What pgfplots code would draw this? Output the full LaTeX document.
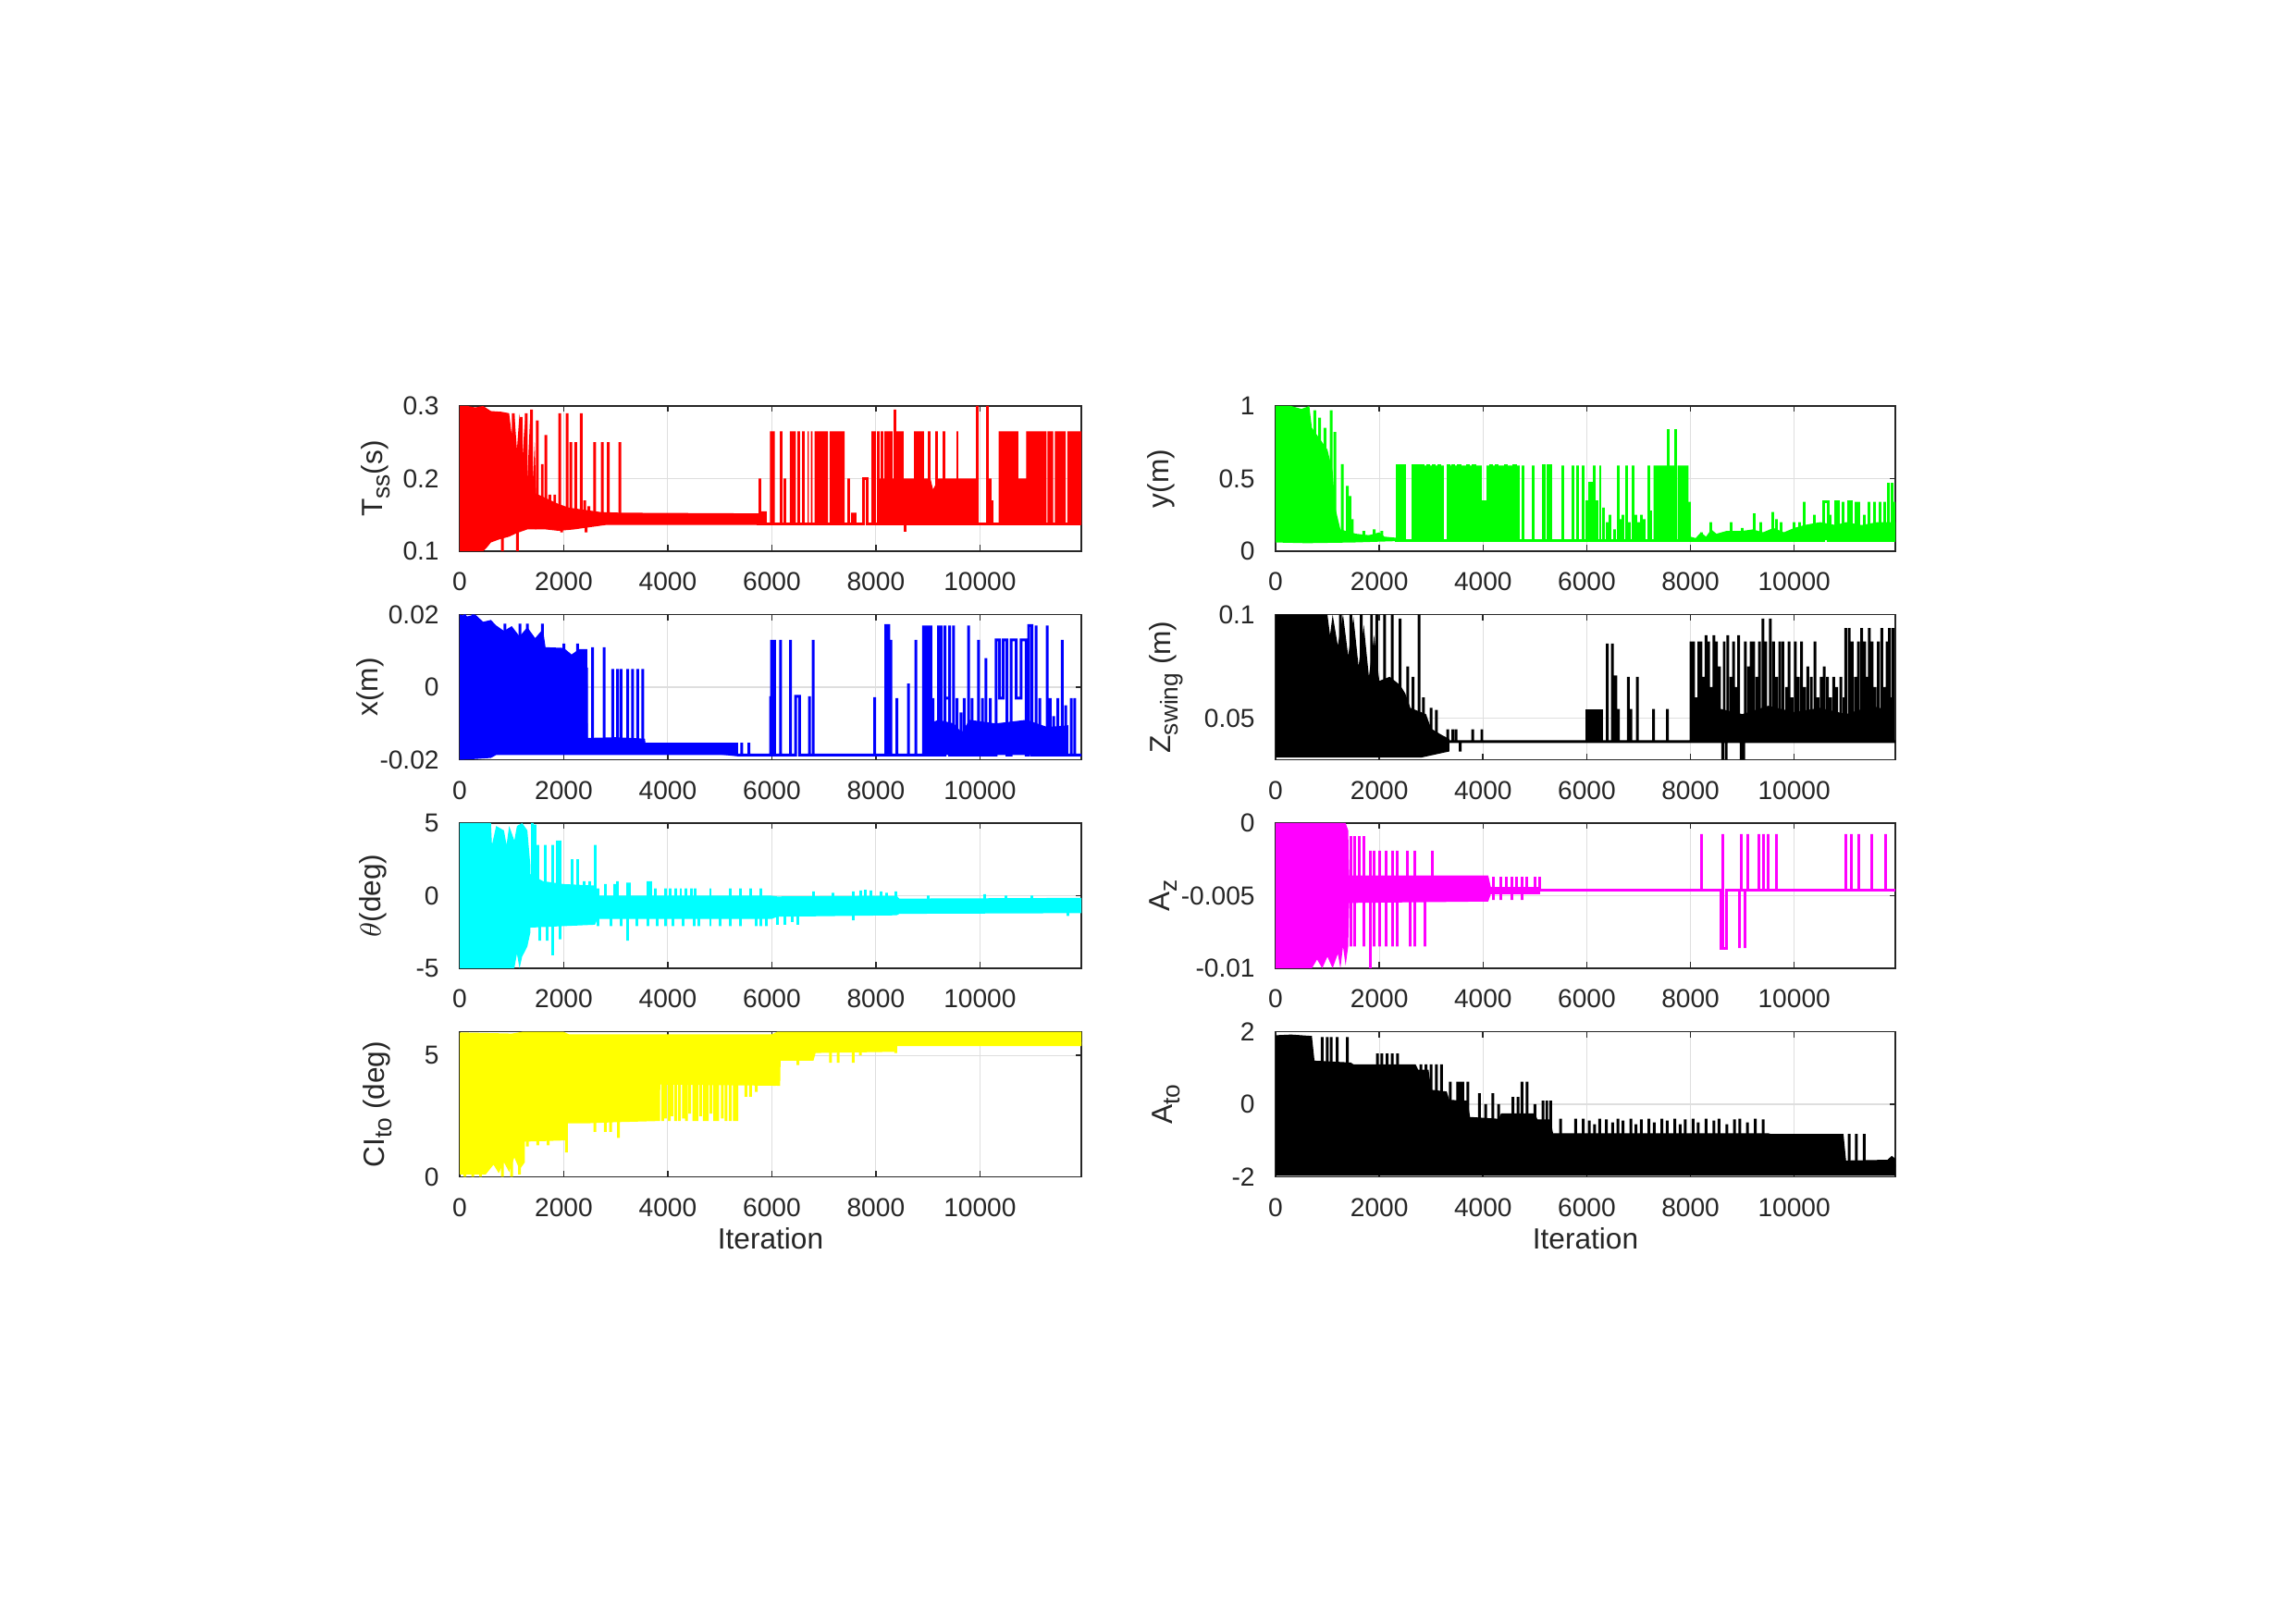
\documentclass[border=0pt]{standalone}
\usepackage{fontspec}
\setmainfont{Liberation Sans}
\usepackage{pgfplots}
\pgfplotsset{compat=1.18}
\definecolor{axgray}{rgb}{0.15,0.15,0.15}
\definecolor{gridgray}{rgb}{0.87,0.87,0.87}
\definecolor{cR}{rgb}{1,0,0}
\definecolor{cB}{rgb}{0,0,1}
\definecolor{cC}{rgb}{0,1,1}
\definecolor{cY}{rgb}{1,1,0}
\definecolor{cG}{rgb}{0,1,0}
\definecolor{cM}{rgb}{1,0,1}
\definecolor{cK}{rgb}{0,0,0}
\newcommand{\sub}[1]{\raisebox{-0.5ex}{\fontsize{7.5}{8}\selectfont #1}}
\pgfplotsset{
 mlab/.style={
  scale only axis, height=15.7mm, anchor=south west,
  xmin=0, xmax=11950,
  scaled x ticks=false, scaled y ticks=false,
  xtick={0,2000,4000,6000,8000,10000},
  xticklabels={0,2000,4000,6000,8000,10000},
  grid=major, major grid style={gridgray, line width=0.3pt},
  axis line style={axgray, line width=0.45pt},
  tick style={axgray, line width=0.45pt},
  tick align=inside, major tick length=0.65mm,
  tick label style={font=\fontsize{8}{9.6}\selectfont, text=axgray},
  xticklabel style={yshift=-1.05mm},
  yticklabel style={xshift=-1.0mm},
  label style={font=\fontsize{9}{10.8}\selectfont, text=axgray},
 },
 L/.style={mlab, width=67.2mm, ylabel style={at={(axis description cs:#1,0.5)}, anchor=base}},
 R/.style={mlab, width=67.0mm, ylabel style={at={(axis description cs:#1,0.5)}, anchor=base}},
 spk/.style={line width=0.85pt},
 itl/.style={xlabel={Iteration}, xlabel style={at={(axis description cs:0.5,-0.497)}, anchor=base}},
}
\begin{document}
\begin{tikzpicture}
\path[use as bounding box] (0,0) rectangle (248mm,175.5mm);

% ---------- Panel 1: T_ss ----------
\begin{axis}[L=-0.125, at={(49.7mm,115.9mm)}, ymin=0.1, ymax=0.3, ytick={0.1,0.2,0.3}, yticklabels={0.1,0.2,0.3}, ylabel={T\sub{ss}(s)}]
\addplot[draw=none, fill=cR] coordinates {(0,0.10)(0,0.30)(150,0.30)(300,0.298)(450,0.30)(600,0.293)(800,0.292)(950,0.29)(1000,0.26)(1050,0.29)(1100,0.24)(1150,0.29)(1200,0.22)(1250,0.28)(1300,0.2)(1350,0.28)(1400,0.19)(1440,0.25)(1470,0.18)(1470,0.13)(1300,0.13)(1100,0.125)(950,0.12)(750,0.116)(600,0.112)(520,0.105)(450,0.10)};
\addplot[draw=none, fill=cR] coordinates {(1450,0.13)(1450,0.18)(1600,0.175)(1750,0.17)(1900,0.165)(2100,0.16)(2400,0.157)(2700,0.154)(3100,0.153)(5850,0.152)(5850,0.136)(2800,0.136)(2500,0.133)(2200,0.13)(1900,0.128)(1650,0.13)};
\addplot[draw=none, fill=cR] coordinates {(8030,0.137)(8030,0.2)(8400,0.2)(8450,0.19)(8500,0.2)(9050,0.2)(9100,0.185)(9200,0.2)(9950,0.2)(9950,0.137)};
\addplot[draw=none, fill=cR] coordinates {(5962,0.137)(5962,0.265)(6058,0.265)(6058,0.137)(6346,0.137)(6346,0.265)(6462,0.265)(6462,0.137)(6690,0.137)(6690,0.265)(6710,0.265)(6710,0.137)(6750,0.137)(6750,0.265)(6780,0.265)(6780,0.137)(6820,0.137)(6820,0.265)(7080,0.265)(7080,0.137)(7110,0.137)(7110,0.265)(7400,0.265)(7400,0.137)(10360,0.137)(10360,0.265)(10740,0.265)(10740,0.2)(10890,0.2)(10890,0.265)(11280,0.265)(11280,0.137)(11300,0.137)(11300,0.265)(11410,0.265)(11410,0.137)(11440,0.137)(11440,0.265)(11650,0.265)(11650,0.137)(11680,0.137)(11680,0.265)(11950,0.265)(11950,0.137)};
\addplot[cR, spk] coordinates {(819,0.2)(819,0.1)(819,0.2)(1030,0.2)(1030,0.29)(1030,0.2)(1108,0.2)(1108,0.1)(1108,0.2)(1180,0.2)(1180,0.285)(1180,0.2)(1280,0.2)(1280,0.29)(1280,0.2)(1380,0.2)(1380,0.295)(1380,0.2)(1490,0.15)(1490,0.28)(1490,0.15)(1587,0.15)(1587,0.22)(1587,0.15)(1654,0.15)(1654,0.26)(1654,0.15)(1731,0.15)(1731,0.178)(1731,0.15)(1827,0.15)(1827,0.178)(1827,0.15)(1923,0.15)(1923,0.29)(1923,0.15)(1960,0.15)(1960,0.126)(1960,0.15)(2067,0.15)(2067,0.29)(2067,0.15)(2135,0.15)(2135,0.25)(2135,0.15)(2231,0.15)(2231,0.25)(2231,0.15)(2337,0.15)(2337,0.29)(2337,0.15)(2404,0.15)(2404,0.17)(2404,0.15)(2430,0.15)(2430,0.126)(2430,0.15)(2481,0.15)(2481,0.162)(2481,0.15)(2596,0.15)(2596,0.25)(2596,0.15)(2740,0.15)(2740,0.25)(2740,0.15)(2856,0.15)(2856,0.25)(2856,0.15)(3077,0.15)(3077,0.25)(3077,0.15)(3200,0.15)};
\addplot[cR, spk] coordinates {(5700,0.137)(5769,0.137)(5769,0.2)(5769,0.137)(5820,0.137)(5820,0.155)(5820,0.137)(5870,0.137)(5870,0.155)(5870,0.137)(6173,0.137)(6173,0.265)(6173,0.137)(6250,0.137)(6250,0.2)(6250,0.137)(6519,0.137)(6519,0.265)(6519,0.137)(6600,0.137)(6600,0.265)(6600,0.137)(7481,0.137)(7481,0.2)(7481,0.137)(7548,0.137)(7548,0.153)(7548,0.137)(7600,0.137)(7600,0.153)(7600,0.137)(7769,0.137)(7769,0.2)(7837,0.2)(7837,0.137)(7933,0.137)(7933,0.265)(7933,0.137)(7981,0.137)(7981,0.265)(7981,0.137)(8050,0.137)(8050,0.265)(8050,0.137)(8120,0.137)(8120,0.265)(8120,0.137)(8190,0.137)(8190,0.265)(8190,0.137)(8250,0.137)(8250,0.265)(8250,0.137)(8300,0.137)(8300,0.265)(8300,0.137)(8365,0.137)(8365,0.295)(8365,0.137)(8420,0.137)(8420,0.265)(8420,0.137)(8470,0.137)(8470,0.265)(8470,0.137)(8510,0.137)(8510,0.265)(8510,0.137)(8558,0.137)(8558,0.127)(8558,0.137)(8760,0.137)(8760,0.265)(8760,0.137)(8800,0.137)(8800,0.265)(8800,0.137)(8850,0.137)(8850,0.265)(8850,0.137)(8894,0.137)(8894,0.265)(8894,0.137)(9019,0.137)(9019,0.265)(9019,0.137)(9163,0.137)(9163,0.265)(9163,0.137)(9308,0.137)(9308,0.265)(9308,0.137)(9567,0.137)(9567,0.265)(9567,0.137)(9952,0.137)(9952,0.3)(9952,0.137)(10144,0.137)(10144,0.3)(10144,0.137)(10192,0.137)(10192,0.2)(10192,0.137)(10240,0.137)(10240,0.17)(10240,0.137)(11950,0.137)};
\end{axis}

% ---------- Panel 2: x(m) ----------
\begin{axis}[L=-0.131, at={(49.7mm,93.35mm)}, ymin=-0.02, ymax=0.02, ytick={-0.02,0,0.02}, yticklabels={-0.02,0,0.02}, ylabel={x(m)}]
\addplot[draw=none, fill=cB] coordinates {(0,-0.02)(0,0.02)(150,0.0195)(300,0.02)(450,0.018)(600,0.0185)(700,0.017)(850,0.0155)(1000,0.0168)(1150,0.014)(1300,0.0165)(1450,0.0135)(1600,0.016)(1650,0.011)(2000,0.0108)(2150,0.009)(2300,0.0105)(2450,0.0105)(2460,-0.014)(3000,-0.0138)(3560,-0.0142)(3570,-0.0153)(5350,-0.0153)(5350,-0.0187)(700,-0.0187)(600,-0.0195)(300,-0.0198)};
\addplot[draw=none, fill=cB] coordinates {(8950,-0.0187)(8950,-0.0105)(9200,-0.009)(9500,-0.01)(9650,-0.0125)(9800,-0.009)(10300,-0.01)(10900,-0.009)(11300,-0.011)(11700,-0.0105)(11700,-0.0187)};
\addplot[cB, spk] coordinates {(100,0.01)(100,0.02)(100,0.01)(250,0.01)(250,0.02)(250,0.01)(867,0.01)(867,0.0175)(867,0.01)(1156,0.01)(1156,0.0175)(1156,0.01)(1301,0.01)(1301,0.0175)(1301,0.01)(1590,0.01)(1590,0.0175)(1590,0.01)(2004,0.005)(2004,0.012)(2004,0.005)(2265,0.005)(2265,0.012)(2265,0.005)(2440,0.005)(2440,-0.016)(2554,-0.016)(2554,0.011)(2554,-0.016)(2776,-0.016)(2776,0.011)(2776,-0.016)(2939,-0.016)(2939,0.005)(2939,-0.016)(3036,-0.016)(3036,0.005)(3036,-0.016)(3100,-0.016)(3100,0.005)(3100,-0.016)(3228,-0.016)(3228,0.005)(3228,-0.016)(3325,-0.016)(3325,0.005)(3325,-0.016)(3421,-0.016)(3421,0.005)(3421,-0.016)(3517,-0.016)(3517,0.005)(3517,-0.016)(3600,-0.016)(5350,-0.0187)(5420,-0.0187)(5420,-0.0153)(5420,-0.0187)(5560,-0.0187)(5560,-0.0153)(5560,-0.0187)(5975,-0.0187)(5975,-0.0025)(5975,-0.0187)(5994,-0.0187)(5994,0.013)(5994,-0.0187)(6052,-0.0187)(6052,0.013)(6052,-0.0187)(6167,-0.0187)(6167,0.013)(6167,-0.0187)(6360,-0.0187)(6360,0.013)(6360,-0.0187)(6456,-0.0187)(6456,-0.0025)(6533,-0.0025)(6533,-0.0187)(6726,-0.0187)(6726,-0.0025)(6726,-0.0187)(6794,-0.0187)(6794,0.013)(6794,-0.0187)(7979,-0.0187)(7979,-0.0028)(7979,-0.0187)(8191,-0.0187)(8191,0.017)(8250,0.017)(8250,-0.0187)(8288,-0.0187)(8288,0.013)(8288,-0.0187)(8403,-0.0187)(8403,-0.003)(8403,-0.0187)(8625,-0.0187)(8625,0.001)(8625,-0.0187)(8770,-0.0187)(8770,0.013)(8770,-0.0187)(8914,-0.0187)(8914,0.017)(8914,-0.0187)(8960,-0.0187)(8960,0.017)(8960,-0.0187)(9010,-0.0187)(9010,0.017)(9010,-0.003)(9058,-0.003)(9058,0.017)(9058,-0.0187)(9100,-0.0187)(9100,-0.003)(9100,-0.0187)(9203,-0.0187)(9203,0.017)(9203,-0.0187)(9260,-0.0187)(9260,0.017)(9260,-0.0187)(9330,-0.0187)(9330,0.017)(9330,-0.003)(9420,-0.003)(9420,0.017)(9420,-0.0187)(9492,-0.0187)(9492,0.017)(9492,-0.0187)(9560,-0.0187)(9560,-0.003)(9560,-0.0187)(9637,-0.0187)(9637,-0.007)(9637,-0.0187)(9700,-0.0187)(9700,-0.003)(9700,-0.0187)(9781,-0.0187)(9781,0.017)(9781,-0.0187)(9850,-0.0187)(9850,-0.003)(9850,-0.0187)(9974,-0.0187)(9974,0.013)(9974,-0.0187)(10050,-0.0187)(10050,-0.003)(10050,-0.0187)(10118,-0.0187)(10118,0.008)(10118,-0.0187)(10200,-0.0187)(10200,-0.003)(10200,-0.0187)(10311,-0.0187)(10311,0.013)(10380,0.013)(10380,-0.003)(10450,-0.003)(10450,0.013)(10520,0.013)(10520,-0.0187)(10600,-0.0187)(10600,0.013)(10700,0.013)(10700,-0.003)(10790,-0.003)(10790,0.013)(10890,0.013)(10890,-0.0187)(10938,-0.0187)(10938,0.017)(11000,0.017)(11000,-0.0187)(11082,-0.0187)(11082,0.017)(11082,-0.0187)(11150,-0.0187)(11150,-0.003)(11150,-0.0187)(11294,-0.0187)(11294,0.017)(11294,-0.0187)(11350,-0.0187)(11350,-0.003)(11350,-0.0187)(11420,-0.0187)(11420,-0.008)(11420,-0.0187)(11500,-0.0187)(11500,-0.003)(11500,-0.0187)(11583,-0.0187)(11583,0.013)(11583,-0.0187)(11650,-0.0187)(11650,-0.005)(11650,-0.0187)(11757,-0.0187)(11757,-0.003)(11757,-0.0187)(11824,-0.0187)(11824,-0.003)(11824,-0.0187)(11950,-0.0187)};
\end{axis}

% ---------- Panel 3: theta ----------
\begin{axis}[L=-0.127, at={(49.7mm,70.8mm)}, ymin=-5, ymax=5, ytick={-5,0,5}, yticklabels={-5,0,5}, ylabel={$\theta$(deg)}]
\addplot[draw=none, fill=cC] coordinates {(0,-5)(0,5)(300,5)(600,5)(620,3.5)(700,4.8)(850,4.5)(900,3.5)(950,4.8)(1050,3.8)(1100,4.8)(1200,5)(1300,4.5)(1360,2)(1360,-2.5)(1300,-3.5)(1200,-4.2)(1150,-5)(1100,-4)(1050,-5)(900,-5)};
\addplot[draw=none, fill=cC] coordinates {(1350,-2.2)(1350,1.5)(1600,1.0)(2000,0.8)(2600,0.7)(2650,0.0)(6000,0.0)(6100,-0.05)(8400,0.0)(8450,-0.2)(11950,-0.15)(11950,-1.2)(8450,-1.25)(8400,-1.35)(6100,-1.45)(6000,-1.6)(2650,-1.6)(2600,-2.0)};
\addplot[cC, spk] coordinates {(1350,0.5)(1400,0.5)(1400,5)(1400,0.5)(1450,0.5)(1450,4.9)(1450,0.5)(1494,0.5)(1494,3.5)(1494,0.5)(1542,0.5)(1542,-3.1)(1542,0.5)(1638,0.5)(1638,3.5)(1638,0.5)(1686,0.5)(1686,-3.1)(1686,0.5)(1783,0.5)(1783,3.5)(1783,-4.1)(1783,0.5)(1879,0.5)(1879,3.8)(1879,0.5)(1927,0.5)(1927,3.8)(1927,-3)(1927,0.5)(2168,0.5)(2168,2.5)(2168,0.5)(2264,0.5)(2264,2.5)(2264,0.5)(2400,0.5)(2400,1.0)(2400,0.5)(2500,0.5)(2500,1.0)(2500,0.5)(2602,0.5)(2602,3.5)(2602,-0.5)(2650,-0.5)(2650,0.5)(2650,-2.1)(2650,-0.5)(2795,-0.5)(2795,0.8)(2795,-0.5)(2900,-0.5)(2900,-2.1)(2900,-0.5)(2987,-0.5)(2987,0.8)(2987,-0.5)(3036,-0.5)(3036,1.0)(3036,-0.5)(3100,-0.5)(3100,-2.1)(3100,-0.5)(3228,-0.5)(3228,0.9)(3228,-3.1)(3228,-0.5)(3257,-0.5)(3257,0.9)(3257,-0.5)(3400,-0.5)(3400,-2.1)(3400,-0.5)(3614,-0.5)(3614,1.0)(3614,-2.1)(3614,-0.5)(3680,-0.5)(3680,1.0)(3680,-0.5)(3758,-0.5)(3758,0.5)(3758,-0.5)(3800,-0.5)(3800,-2.1)(3800,-0.5)(3951,-0.5)(3951,0.5)(3951,-2.1)(3951,-0.5)(4050,-0.5)(4050,0.5)(4050,-0.5)(4100,-0.5)(4100,-2.1)(4100,-0.5)(4150,-0.5)(4150,0.5)(4150,-0.5)(4250,-0.5)(4250,0.5)(4250,-0.5)(4300,-0.5)(4300,-2.1)(4300,-0.5)(4350,-0.5)(4350,0.5)(4350,-0.5)(4450,-0.5)(4450,0.5)(4450,-0.5)(4500,-0.5)(4500,-2.1)(4500,-0.5)(4530,-0.5)(4530,0.5)(4530,-0.5)(4600,-0.5)(4600,-2.1)(4600,-0.5)(4819,-0.5)(4819,0.5)(4819,-2.1)(4819,-0.5)(5000,-0.5)(5000,-2.1)(5000,-0.5)(5204,-0.5)(5204,0.5)(5204,-2.1)(5204,-0.5)(5397,-0.5)(5397,0.5)(5397,-2.1)(5397,-0.5)(5590,-0.5)(5590,0.5)(5590,-0.5)(5700,-0.5)(5700,-2.1)(5700,-0.5)(5782,-0.5)(5782,0.5)(5782,-2.1)(5782,-0.5)(5900,-0.5)(5900,-2.1)(5900,-0.5)(6100,-0.5)(6100,-2.0)(6100,-0.5)(6250,-0.5)(6250,-2.0)(6250,-0.5)(6400,-0.5)(6400,-1.8)(6400,-0.5)(6500,-0.5)(6500,-2.0)(6500,-0.5)(6794,-0.5)(6794,0.3)(6794,-0.5)(7180,-0.5)(7180,0.2)(7180,-0.5)(7566,-0.5)(7566,0.3)(7566,-1.7)(7566,-0.5)(7700,-0.5)(7700,0.35)(7700,-0.5)(7800,-0.5)(7800,0.4)(7800,-0.5)(7903,-0.5)(7903,0.35)(7903,-0.5)(8095,-0.5)(8095,0.3)(8095,-0.5)(8200,-0.5)(8200,0.2)(8200,-0.5)(8384,-0.5)(8384,0.3)(8384,-0.5)(9000,-0.5)(9000,0.0)(9000,-0.5)(10100,-0.5)(10100,0.1)(10100,-0.5)(10500,-0.5)(10500,0.0)(10500,-0.5)(11000,-0.5)(11000,0.0)(11000,-0.5)(11700,-0.5)(11700,-1.4)(11700,-0.5)(11950,-0.5)};
\end{axis}

% ---------- Panel 4: CI_to ----------
\begin{axis}[L=-0.122, itl, at={(49.7mm,48.25mm)}, ymin=0, ymax=5.98, ytick={0,5}, yticklabels={0,5}, ylabel={CI\sub{to} (deg)}]
\addplot[draw=none, fill=cY] coordinates {(0,5.95)(1000,5.9)(1200,5.97)(2000,5.97)(2100,5.87)(6000,5.87)(6100,5.97)(11950,5.97)(11950,5.38)(8400,5.38)(8384,5.15)(6842,5.1)(6800,4.78)(6168,4.78)(6160,3.75)(3855,3.8)(3850,2.3)(2987,2.25)(2409,2.2)(2024,2.2)(2024,1.5)(1253,1.45)(1253,0.6)(1150,0.3)(1050,0.8)(950,0.2)(850,0.6)(750,0.15)(650,0.5)(500,0.1)(0,0.1)};
\addplot[cY, spk] coordinates {(0,3)(100,3)(100,0)(100,3)(250,3)(250,0)(250,3)(400,3)(400,0)(400,3)(820,3)(820,0)(820,3)(1000,3)(1000,0)(1000,3)(1150,3)(1150,0.1)(1150,3)(1300,3)(1300,1.25)(1300,3)(1500,3)(1500,1.3)(1500,3)(1700,3)(1700,1.3)(1700,3)(2050,3)(2050,1.0)(2050,3)(2600,3)(2600,1.85)(2600,3)(2800,3)(2800,1.85)(2800,3)(2900,3)(2900,1.85)(2900,3)(3050,3)(3050,1.6)(3050,3)(3900,4.5)(3900,2.3)(3900,4.5)(3960,4.5)(3960,2.4)(3960,4.5)(4030,4.5)(4030,2.3)(4030,4.5)(4080,4.5)(4080,2.5)(4080,4.5)(4150,4.5)(4150,2.3)(4150,4.5)(4220,4.5)(4220,2.3)(4220,4.5)(4300,4.5)(4300,2.4)(4300,4.5)(4360,4.5)(4360,2.3)(4360,4.5)(4420,4.5)(4420,2.6)(4420,4.5)(4500,4.5)(4500,2.3)(4500,4.5)(4560,4.5)(4560,2.3)(4560,4.5)(4630,4.5)(4630,2.5)(4630,4.5)(4700,4.5)(4700,2.3)(4700,4.5)(4760,4.5)(4760,2.3)(4760,4.5)(4830,4.5)(4830,2.6)(4830,4.5)(4900,4.5)(4900,2.3)(4900,4.5)(4960,4.5)(4960,2.3)(4960,4.5)(5050,4.5)(5050,2.4)(5050,4.5)(5120,4.5)(5120,2.3)(5120,4.5)(5200,4.5)(5200,2.3)(5200,4.5)(5280,4.5)(5280,2.3)(5280,4.5)(5330,4.5)(5330,2.3)(5330,4.5)(5500,4.5)(5500,3.3)(5500,4.5)(5590,4.5)(5590,3.3)(5590,4.5)(5700,4.5)(5700,3.5)(5700,4.5)(6050,4.5)(6050,3.75)(6050,4.5)(6300,5.5)(6500,5.5)(6500,4.6)(6500,5.5)(7130,5.5)(7130,4.7)(7130,5.5)(7277,5.5)(7277,4.7)(7277,5.5)(7566,5.5)(7566,4.7)(7566,5.5)(7700,5.5)(7700,5.0)(7700,5.5)(8384,5.5)(8384,5.1)(8384,5.5)(11950,5.5)};
\end{axis}

% ---------- Panel 5: y(m) ----------
\begin{axis}[R=-0.173, at={(137.9mm,115.9mm)}, ymin=0, ymax=1, ytick={0,0.5,1}, yticklabels={0,0.5,1}, ylabel={y(m)}]
\addplot[draw=none, fill=cG] coordinates {(0,0.06)(0,1)(300,1)(500,0.98)(650,1)(700,0.85)(800,0.8)(900,0.75)(1000,0.7)(1100,0.55)(1150,0.3)(1250,0.15)(1550,0.12)(1800,0.11)(2000,0.13)(2100,0.1)(2400,0.09)(2400,0.07)(1500,0.06)(600,0.055)};
\addplot[draw=none, fill=cG] coordinates {(7286,0.075)(7286,0.59)(7550,0.59)(7550,0.075)(7600,0.075)(7600,0.59)(7700,0.59)(7700,0.075)(7750,0.075)(7750,0.59)(7960,0.59)(7960,0.075)};
\addplot[draw=none, fill=cG] coordinates {(8000,0.075)(8000,0.1)(8100,0.09)(8200,0.13)(8300,0.1)(8400,0.15)(8500,0.12)(8700,0.14)(9000,0.14)(9200,0.15)(9400,0.13)(9600,0.16)(9800,0.13)(10000,0.16)(10200,0.18)(10500,0.2)(10800,0.18)(11000,0.2)(11300,0.18)(11600,0.2)(11950,0.2)(11950,0.075)};
\addplot[cG, spk] coordinates {(755,0.5)(755,0.97)(755,0.5)(850,0.5)(850,0.92)(850,0.5)(950,0.5)(950,0.85)(950,0.5)(1074,0.5)(1074,0.97)(1074,0.3)(1142,0.3)(1142,0.82)(1142,0.2)(1287,0.1)(1287,0.6)(1287,0.1)(1384,0.1)(1384,0.45)(1384,0.1)(1432,0.1)(1432,0.38)(1432,0.1)(1480,0.1)(1480,0.22)(1480,0.1)(1700,0.1)(1700,0.14)(1700,0.1)(1900,0.1)(1900,0.15)(1900,0.1)(2050,0.1)(2050,0.14)(2050,0.08)};
\addplot[cG, spk] coordinates {(2300,0.075)(2351,0.075)(2351,0.59)(2370,0.59)(2370,0.075)(2400,0.075)(2400,0.59)(2420,0.59)(2420,0.075)(2470,0.075)(2470,0.59)(2496,0.59)(2496,0.075)(2641,0.075)(2641,0.59)(2660,0.59)(2660,0.075)(2700,0.075)(2700,0.59)(2720,0.59)(2720,0.075)(2760,0.075)(2760,0.59)(2787,0.59)(2787,0.075)(2835,0.075)(2835,0.59)(2850,0.59)(2850,0.075)(2880,0.075)(2880,0.59)(2880,0.075)(2930,0.075)(2930,0.59)(2950,0.59)(2950,0.075)(2990,0.075)(2990,0.59)(2990,0.075)(3040,0.075)(3040,0.59)(3060,0.59)(3060,0.075)(3100,0.075)(3100,0.59)(3100,0.075)(3150,0.075)(3150,0.59)(3170,0.59)(3170,0.075)(3222,0.075)(3222,0.59)(3222,0.075)(3319,0.075)(3319,0.59)(3340,0.59)(3340,0.075)(3380,0.075)(3380,0.59)(3380,0.075)(3420,0.075)(3420,0.59)(3440,0.59)(3440,0.075)(3480,0.075)(3480,0.59)(3480,0.075)(3530,0.075)(3530,0.59)(3560,0.59)(3560,0.075)(3600,0.075)(3600,0.59)(3600,0.075)(3650,0.075)(3650,0.59)(3650,0.075)(3700,0.075)(3700,0.59)(3720,0.59)(3720,0.075)(3760,0.075)(3760,0.59)(3760,0.075)(3800,0.075)(3800,0.59)(3851,0.59)(3851,0.075)(3899,0.075)(3899,0.59)(3899,0.075)(3950,0.075)(3950,0.59)(3950,0.075)(4000,0.075)(4000,0.34)(4045,0.34)(4045,0.075)(4093,0.075)(4093,0.59)(4093,0.075)(4141,0.075)(4141,0.59)(4160,0.59)(4160,0.075)(4200,0.075)(4200,0.59)(4200,0.075)(4260,0.075)(4260,0.59)(4280,0.59)(4280,0.075)(4330,0.075)(4330,0.59)(4330,0.075)(4380,0.075)(4380,0.59)(4380,0.075)(4430,0.075)(4430,0.59)(4450,0.59)(4450,0.075)(4500,0.075)(4500,0.59)(4500,0.075)(4560,0.075)(4560,0.59)(4560,0.075)(4600,0.075)(4600,0.59)(4620,0.59)(4620,0.075)(4673,0.075)(4673,0.59)(4673,0.075)(4770,0.075)(4770,0.59)(4770,0.075)(4964,0.075)(4964,0.59)(4964,0.075)(5157,0.075)(5157,0.59)(5180,0.59)(5180,0.075)(5250,0.075)(5250,0.59)(5303,0.59)(5303,0.075)(5545,0.075)(5545,0.59)(5545,0.075)(5738,0.075)(5738,0.59)(5738,0.075)(5816,0.075)(5816,0.59)(5816,0.075)(5932,0.075)(5932,0.59)(5932,0.075)(6000,0.075)(6000,0.35)(6000,0.075)(6050,0.075)(6050,0.47)(6100,0.47)(6100,0.075)(6150,0.075)(6150,0.59)(6150,0.075)(6200,0.075)(6200,0.35)(6200,0.075)(6260,0.075)(6260,0.59)(6260,0.075)(6318,0.075)(6318,0.3)(6318,0.075)(6400,0.075)(6400,0.2)(6400,0.075)(6450,0.075)(6450,0.25)(6450,0.075)(6530,0.075)(6530,0.15)(6530,0.075)(6609,0.075)(6609,0.59)(6609,0.075)(6650,0.075)(6650,0.22)(6650,0.075)(6700,0.075)(6700,0.25)(6700,0.075)(6773,0.075)(6773,0.59)(6773,0.075)(6830,0.075)(6830,0.2)(6830,0.075)(6899,0.075)(6899,0.59)(6899,0.075)(6950,0.075)(6950,0.25)(6950,0.075)(7000,0.075)(7000,0.2)(7000,0.075)(7050,0.075)(7050,0.25)(7050,0.075)(7100,0.075)(7100,0.22)(7100,0.075)(7190,0.075)(7190,0.59)(7190,0.075)(7240,0.075)(7240,0.28)(7240,0.075)(7576,0.075)(7576,0.84)(7576,0.075)(7721,0.075)(7721,0.84)(7721,0.075)(7980,0.075)(7980,0.34)(7980,0.075)(8205,0.075)(8205,0.13)(8205,0.075)(8399,0.075)(8399,0.2)(8399,0.075)(8786,0.075)(8786,0.2)(8786,0.075)(9000,0.075)(9000,0.16)(9000,0.075)(9221,0.075)(9221,0.26)(9221,0.075)(9350,0.075)(9350,0.2)(9350,0.075)(9589,0.075)(9589,0.27)(9589,0.075)(9650,0.075)(9650,0.22)(9650,0.075)(9753,0.075)(9753,0.2)(9753,0.075)(9995,0.075)(9995,0.2)(9995,0.075)(10100,0.075)(10100,0.2)(10100,0.075)(10189,0.075)(10189,0.34)(10189,0.075)(10383,0.075)(10383,0.25)(10383,0.075)(10576,0.075)(10576,0.34)(10650,0.34)(10650,0.075)(10700,0.075)(10700,0.25)(10700,0.075)(10800,0.075)(10800,0.34)(10860,0.34)(10860,0.075)(10950,0.075)(10950,0.34)(10950,0.075)(11050,0.075)(11050,0.34)(11100,0.34)(11100,0.075)(11200,0.075)(11200,0.34)(11200,0.075)(11253,0.075)(11253,0.34)(11253,0.075)(11350,0.075)(11350,0.25)(11350,0.075)(11447,0.075)(11447,0.34)(11447,0.075)(11550,0.075)(11550,0.34)(11550,0.075)(11650,0.075)(11650,0.34)(11650,0.075)(11737,0.075)(11737,0.34)(11737,0.075)(11814,0.075)(11814,0.47)(11814,0.075)(11882,0.075)(11882,0.47)(11882,0.075)(11930,0.075)(11930,0.34)(11930,0.075)(11950,0.075)};
\end{axis}

% ---------- Panel 6: Z_swing ----------
\begin{axis}[R=-0.170, at={(137.9mm,93.35mm)}, ymin=0.03, ymax=0.1, ytick={0.05,0.1}, yticklabels={0.05,0.1}, ylabel={Z\sub{swing} (m)}]
\addplot[draw=none, fill=cK] coordinates {(0,0.031)(0,0.1)(500,0.1)(1000,0.1)(1050,0.09)(1100,0.1)(1200,0.085)(1300,0.1)(1400,0.08)(1500,0.099)(1600,0.075)(1700,0.095)(1800,0.07)(1900,0.09)(2000,0.068)(2200,0.07)(2400,0.066)(2500,0.062)(2600,0.055)(2900,0.052)(3000,0.045)(3200,0.042)(3350,0.04)(3350,0.034)(2800,0.031)};
\addplot[draw=none, fill=cK] coordinates {(5980,0.0387)(5980,0.0545)(6318,0.0545)(6318,0.0387)};
\addplot[draw=none, fill=cK] coordinates {(8012,0.0387)(8012,0.05)(8500,0.055)(9000,0.052)(9500,0.056)(10000,0.053)(10500,0.055)(11000,0.052)(11500,0.056)(11930,0.053)(11930,0.0387)};
\addplot[cK, spk] coordinates {(1250,0.06)(1250,0.1)(1250,0.06)(1450,0.06)(1450,0.1)(1450,0.06)(1650,0.06)(1650,0.1)(1650,0.06)(1850,0.06)(1850,0.1)(1850,0.06)(1950,0.06)(1950,0.1)(1950,0.06)(2100,0.05)(2100,0.1)(2100,0.05)(2250,0.05)(2250,0.1)(2250,0.05)(2400,0.05)(2400,0.098)(2400,0.05)(2550,0.05)(2550,0.075)(2550,0.05)(2650,0.05)(2650,0.07)(2650,0.05)(2767,0.05)(2767,0.1)(2767,0.05)(2850,0.045)(2850,0.06)(2850,0.045)(3000,0.04)(3000,0.055)(3000,0.04)(3100,0.04)(3100,0.054)(3100,0.04)(3319,0.0387)(3319,0.0447)(3319,0.0387)(3416,0.0387)(3416,0.0447)(3416,0.0387)(3480,0.0387)(3480,0.0447)(3480,0.0387)(3560,0.0387)(3560,0.034)(3560,0.0387)(3803,0.0387)(3803,0.0447)(3803,0.0387)(3977,0.0387)(3977,0.0447)(3977,0.0387)(6396,0.0387)(6396,0.086)(6396,0.0387)(6492,0.0387)(6492,0.086)(6492,0.0387)(6512,0.0387)(6512,0.07)(6560,0.07)(6560,0.0387)(6609,0.0387)(6609,0.0545)(6609,0.0387)(6802,0.0387)(6802,0.07)(6802,0.0387)(6851,0.0387)(6851,0.0545)(6851,0.0387)(6977,0.0387)(6977,0.07)(6977,0.0387)(7286,0.0387)(7286,0.0545)(7286,0.0387)(7557,0.0387)(7557,0.0545)(7557,0.0387)(8012,0.0387)(8012,0.087)(8012,0.0387)(8060,0.0387)(8060,0.087)(8060,0.0387)(8110,0.0387)(8110,0.06)(8110,0.0387)(8160,0.0387)(8160,0.087)(8160,0.0387)(8200,0.0387)(8200,0.087)(8200,0.0387)(8250,0.0387)(8250,0.07)(8250,0.0387)(8300,0.0387)(8300,0.09)(8300,0.0387)(8350,0.0387)(8350,0.087)(8350,0.0387)(8400,0.0387)(8400,0.065)(8400,0.0387)(8450,0.0387)(8450,0.09)(8450,0.0387)(8500,0.0387)(8500,0.087)(8500,0.0387)(8560,0.0387)(8560,0.075)(8560,0.0387)(8621,0.0387)(8621,0.03)(8621,0.0387)(8650,0.0387)(8650,0.087)(8650,0.0387)(8689,0.0387)(8689,0.03)(8689,0.0387)(8720,0.0387)(8720,0.09)(8720,0.0387)(8780,0.0387)(8780,0.07)(8780,0.0387)(8830,0.0387)(8830,0.087)(8830,0.0387)(8880,0.0387)(8880,0.065)(8880,0.0387)(8930,0.0387)(8930,0.09)(8930,0.0387)(8979,0.0387)(8979,0.03)(8979,0.0387)(9027,0.0387)(9027,0.03)(9027,0.0387)(9060,0.0387)(9060,0.087)(9060,0.0387)(9120,0.0387)(9120,0.075)(9120,0.0387)(9170,0.0387)(9170,0.087)(9170,0.0387)(9220,0.0387)(9220,0.087)(9220,0.0387)(9280,0.0387)(9280,0.07)(9280,0.0387)(9330,0.0387)(9330,0.087)(9330,0.0387)(9395,0.0387)(9395,0.098)(9395,0.0387)(9450,0.0387)(9450,0.087)(9450,0.0387)(9540,0.0387)(9540,0.098)(9540,0.0387)(9600,0.0387)(9600,0.087)(9600,0.0387)(9660,0.0387)(9660,0.07)(9660,0.0387)(9720,0.0387)(9720,0.087)(9720,0.0387)(9780,0.0387)(9780,0.087)(9780,0.0387)(9850,0.0387)(9850,0.065)(9850,0.0387)(9900,0.0387)(9900,0.087)(9900,0.0387)(9960,0.0387)(9960,0.06)(9960,0.0387)(10020,0.0387)(10020,0.087)(10020,0.0387)(10080,0.0387)(10080,0.07)(10080,0.0387)(10140,0.0387)(10140,0.087)(10140,0.0387)(10200,0.0387)(10200,0.065)(10200,0.0387)(10260,0.0387)(10260,0.075)(10260,0.0387)(10330,0.0387)(10330,0.07)(10330,0.0387)(10400,0.0387)(10400,0.087)(10400,0.0387)(10460,0.0387)(10460,0.06)(10460,0.0387)(10520,0.0387)(10520,0.07)(10520,0.0387)(10580,0.0387)(10580,0.075)(10580,0.0387)(10640,0.0387)(10640,0.07)(10640,0.0387)(10700,0.0387)(10700,0.06)(10700,0.0387)(10760,0.0387)(10760,0.07)(10760,0.0387)(10820,0.0387)(10820,0.065)(10820,0.0387)(10900,0.0387)(10900,0.07)(10900,0.0387)(10960,0.0387)(10960,0.06)(10960,0.0387)(10992,0.0387)(10992,0.0935)(10992,0.0387)(11060,0.0387)(11060,0.0935)(11060,0.0387)(11120,0.0387)(11120,0.087)(11120,0.0387)(11180,0.0387)(11180,0.07)(11180,0.0387)(11240,0.0387)(11240,0.087)(11240,0.0387)(11302,0.0387)(11302,0.0935)(11302,0.0387)(11360,0.0387)(11360,0.087)(11360,0.0387)(11400,0.0387)(11400,0.07)(11400,0.0387)(11447,0.0387)(11447,0.0935)(11447,0.0387)(11500,0.0387)(11500,0.087)(11500,0.0387)(11560,0.0387)(11560,0.065)(11560,0.0387)(11620,0.0387)(11620,0.087)(11620,0.0387)(11689,0.0387)(11689,0.0935)(11689,0.0387)(11740,0.0387)(11740,0.065)(11740,0.0387)(11790,0.0387)(11790,0.087)(11790,0.0387)(11834,0.0387)(11834,0.0935)(11834,0.0387)(11870,0.0387)(11870,0.06)(11870,0.0387)(11901,0.0387)(11901,0.0935)(11901,0.0387)(11950,0.0387)};
\end{axis}

% ---------- Panel 7: A_z ----------
\begin{axis}[R=-0.171, at={(137.9mm,70.8mm)}, ymin=-0.01, ymax=0, ytick={-0.01,-0.005,0}, yticklabels={-0.01,-0.005,0}, ylabel={A\sub{z}}]
\addplot[draw=none, fill=cM] coordinates {(0,0)(1350,0)(1400,-0.0005)(1420,-0.0036)(2700,-0.0036)(4100,-0.0036)(4150,-0.0044)(5100,-0.0044)(5100,-0.0049)(4150,-0.0049)(4100,-0.0054)(1420,-0.0055)(1400,-0.0085)(1350,-0.0098)(1300,-0.0085)(1250,-0.01)(1200,-0.009)(1100,-0.01)(1000,-0.0092)(900,-0.01)(800,-0.0094)(700,-0.01)(0,-0.01)};
\addplot[cM, spk] coordinates {(1420,-0.0045)(1450,-0.0045)(1450,-0.0009)(1450,-0.0085)(1450,-0.0045)(1530,-0.0045)(1530,-0.0009)(1530,-0.0085)(1530,-0.0045)(1620,-0.0045)(1620,-0.0009)(1620,-0.0045)(1700,-0.0045)(1700,-0.0009)(1700,-0.0085)(1700,-0.0045)(1819,-0.0045)(1819,-0.0019)(1819,-0.01)(1819,-0.0045)(1900,-0.0045)(1900,-0.0019)(1900,-0.0085)(1900,-0.0045)(2013,-0.0045)(2013,-0.0019)(2013,-0.0085)(2013,-0.0045)(2138,-0.0045)(2138,-0.0019)(2138,-0.0085)(2138,-0.0045)(2254,-0.0045)(2254,-0.0019)(2254,-0.0085)(2254,-0.0045)(2351,-0.0045)(2351,-0.0019)(2351,-0.0085)(2351,-0.0045)(2545,-0.0045)(2545,-0.0019)(2545,-0.0045)(2593,-0.0045)(2593,-0.0085)(2593,-0.0045)(2690,-0.0045)(2690,-0.0019)(2690,-0.0085)(2690,-0.0045)(2883,-0.0045)(2883,-0.0085)(2883,-0.0045)(3029,-0.0045)(3029,-0.0019)(3029,-0.0045)(4200,-0.0045)(4200,-0.0037)(4200,-0.0053)(4200,-0.0045)(4350,-0.0045)(4350,-0.0037)(4350,-0.0053)(4350,-0.0045)(4450,-0.0045)(4450,-0.0037)(4450,-0.0045)(4550,-0.0045)(4550,-0.0037)(4550,-0.0053)(4550,-0.0045)(4650,-0.0045)(4650,-0.0037)(4650,-0.0045)(4750,-0.0045)(4750,-0.0037)(4750,-0.0053)(4750,-0.0045)(4850,-0.0045)(4850,-0.0037)(4850,-0.0045)(5000,-0.0045)(5000,-0.0037)(5000,-0.0045)(5100,-0.0045)(5100,-0.0037)(5100,-0.00464)(8205,-0.00464)(8205,-0.00075)(8205,-0.00464)(8592,-0.00464)(8592,-0.0086)(8621,-0.0086)(8621,-0.00075)(8621,-0.0086)(8689,-0.0086)(8689,-0.00464)(8950,-0.00464)(8950,-0.0086)(8950,-0.00464)(8979,-0.00464)(8979,-0.00075)(8979,-0.00464)(9057,-0.00464)(9057,-0.0086)(9057,-0.00464)(9105,-0.00464)(9105,-0.00075)(9105,-0.00464)(9318,-0.00464)(9318,-0.00075)(9318,-0.00464)(9415,-0.00464)(9415,-0.00075)(9415,-0.00464)(9492,-0.00464)(9492,-0.00075)(9492,-0.00464)(9657,-0.00464)(9657,-0.00075)(9657,-0.00464)(10992,-0.00464)(10992,-0.00075)(10992,-0.00464)(11108,-0.00464)(11108,-0.00075)(11108,-0.00464)(11253,-0.00464)(11253,-0.00075)(11253,-0.00464)(11495,-0.00464)(11495,-0.00075)(11495,-0.00464)(11756,-0.00464)(11756,-0.00075)(11756,-0.00464)(11950,-0.00464)};
\end{axis}

% ---------- Panel 8: A_to ----------
\begin{axis}[R=-0.167, itl, at={(137.9mm,48.25mm)}, ymin=-2, ymax=2, ytick={-2,0,2}, yticklabels={-2,0,2}, ylabel={A\sub{to}}]
\addplot[draw=none, fill=cK] coordinates {(0,1.9)(300,1.92)(700,1.88)(750,1.2)(1450,1.15)(1500,1.1)(2700,1.1)(2750,0.95)(2950,0.95)(3000,0.4)(3300,0.35)(3350,0.12)(3700,0.1)(3750,-0.35)(4300,-0.4)(4350,-0.25)(5000,-0.25)(5050,-0.42)(5300,-0.42)(5350,-0.8)(9500,-0.8)(9550,-0.82)(10950,-0.82)(11000,-1.55)(11800,-1.53)(11880,-1.42)(11950,-1.5)(11950,-1.97)(0,-1.97)};
\addplot[cK, spk] coordinates {(900,1.0)(900,1.85)(900,1.0)(997,1.0)(997,1.85)(997,1.0)(1074,1.0)(1074,1.85)(1074,1.0)(1190,1.0)(1190,1.85)(1190,1.0)(1384,1.0)(1384,1.85)(1384,1.0)(1964,1.0)(1964,1.4)(1964,1.0)(2050,1.0)(2050,1.4)(2050,1.0)(2150,1.0)(2150,1.4)(2150,1.0)(2250,1.0)(2250,1.4)(2250,1.0)(2351,1.0)(2351,1.4)(2351,1.0)(2600,0.3)(2800,0.3)(2800,1.1)(2800,0.3)(2900,0.3)(2900,1.1)(2900,0.3)(3000,0.3)(3000,1.1)(3000,0.3)(3100,0.3)(3100,1.1)(3100,0.3)(3200,0.3)(3200,1.1)(3200,0.0)(3367,0.0)(3367,0.62)(3367,0.0)(3512,0.0)(3512,0.62)(3512,0.0)(3561,0.0)(3561,0.62)(3561,0.0)(3609,0.0)(3609,0.62)(3609,0.0)(3706,0.0)(3706,0.62)(3706,-0.6)(3929,-0.6)(3929,0.3)(3929,-0.6)(4050,-0.6)(4050,0.0)(4050,-0.6)(4190,-0.6)(4190,0.3)(4190,-0.6)(4300,-0.6)(4300,0.0)(4300,-0.6)(4577,-0.6)(4577,0.2)(4577,-0.6)(4673,-0.6)(4673,0.2)(4673,-0.6)(4751,-0.6)(4751,0.62)(4751,-0.6)(4848,-0.6)(4848,0.62)(4848,-0.6)(5000,-0.6)(5000,0.0)(5000,-0.6)(5157,-0.6)(5157,0.1)(5157,-0.6)(5230,-0.6)(5230,0.1)(5230,-0.6)(5303,-0.6)(5303,0.1)(5303,-1.0)(5496,-1.0)(5496,-0.4)(5496,-1.0)(5786,-1.0)(5786,-0.4)(5786,-1.0)(5931,-1.0)(5931,-0.4)(5931,-1.0)(6050,-1.0)(6050,-0.45)(6050,-1.0)(6150,-1.0)(6150,-0.55)(6150,-1.0)(6250,-1.0)(6250,-0.4)(6250,-1.0)(6380,-1.0)(6380,-0.42)(6380,-1.0)(6500,-1.0)(6500,-0.5)(6500,-1.0)(6600,-1.0)(6600,-0.4)(6600,-1.0)(6700,-1.0)(6700,-0.45)(6700,-1.0)(6850,-1.0)(6850,-0.4)(6850,-1.0)(6950,-1.0)(6950,-0.55)(6950,-1.0)(7050,-1.0)(7050,-0.42)(7050,-1.0)(7200,-1.0)(7200,-0.4)(7200,-1.0)(7300,-1.0)(7300,-0.5)(7300,-1.0)(7450,-1.0)(7450,-0.4)(7450,-1.0)(7550,-1.0)(7550,-0.45)(7550,-1.0)(7700,-1.0)(7700,-0.4)(7700,-1.0)(7800,-1.0)(7800,-0.55)(7800,-1.0)(7900,-1.0)(7900,-0.42)(7900,-1.0)(8050,-1.0)(8050,-0.4)(8050,-1.0)(8150,-1.0)(8150,-0.5)(8150,-1.0)(8300,-1.0)(8300,-0.4)(8300,-1.0)(8450,-1.0)(8450,-0.45)(8450,-1.0)(8550,-1.0)(8550,-0.4)(8550,-1.0)(8700,-1.0)(8700,-0.55)(8700,-1.0)(8850,-1.0)(8850,-0.42)(8850,-1.0)(8950,-1.0)(8950,-0.4)(8950,-1.0)(9100,-1.0)(9100,-0.5)(9100,-1.0)(9250,-1.0)(9250,-0.4)(9250,-1.0)(9400,-1.0)(9400,-0.42)(9400,-1.0)(11060,-1.7)(11060,-0.82)(11060,-1.7)(11200,-1.7)(11200,-0.82)(11200,-1.7)(11350,-1.7)(11350,-0.82)(11350,-1.7)(11950,-1.7)};
\end{axis}
\end{tikzpicture}
\end{document}
